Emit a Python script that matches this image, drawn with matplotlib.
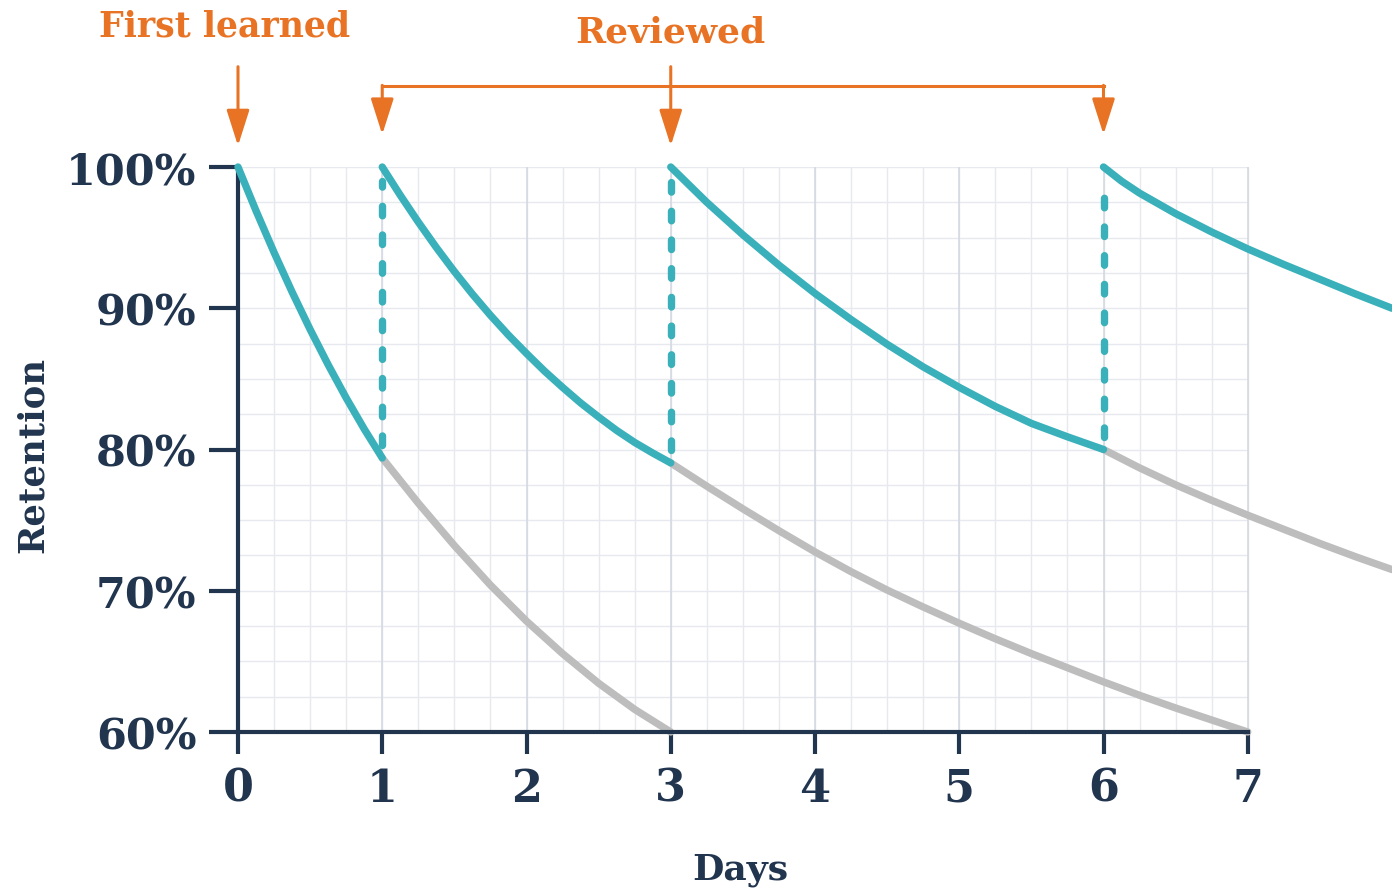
import numpy as np
import matplotlib
matplotlib.use("Agg")
import matplotlib.pyplot as plt

# retention values (days, percent)
learn_days = [0, 0.125, 0.25, 0.375, 0.5, 0.625, 0.75, 0.875, 1.0]
learn_ret = [100, 96.9, 93.95, 91.15, 88.5, 86.0, 83.65, 81.45, 79.4]

review1_days = [1, 1.125, 1.25, 1.375, 1.5, 1.625, 1.75, 1.875, 2,
                2.125, 2.25, 2.375, 2.5, 2.625, 2.75, 2.875, 3]
review1_ret = [100, 98.0, 96.1, 94.3, 92.6, 91.0, 89.5, 88.1, 86.8,
               85.55, 84.4, 83.3, 82.3, 81.35, 80.5, 79.75, 79.05]

review2_days = [3, 3.25, 3.5, 3.75, 4, 4.25, 4.5, 4.75, 5, 5.25, 5.5, 5.75, 6]
review2_ret = [100, 97.5, 95.2, 93.05, 91.05, 89.2, 87.45, 85.85, 84.4, 83.05,
               81.85, 80.9, 80.0]

review3_days = [6, 6.125, 6.25, 6.5, 6.75, 7, 7.25, 7.5, 7.75, 8]
review3_ret = [100, 99.0, 98.15, 96.7, 95.4, 94.2, 93.1, 92.05, 91.0, 90.0]

# what happens without the next review
fade1_days = [1, 1.25, 1.5, 1.75, 2, 2.25, 2.5, 2.75, 3]
fade1_ret = [79.4, 76.2, 73.2, 70.4, 67.85, 65.55, 63.45, 61.6, 60.0]

fade2_days = [3, 3.25, 3.5, 3.75, 4, 4.25, 4.5, 4.75, 5, 5.25, 5.5, 5.75, 6,
              6.25, 6.5, 6.75, 7]
fade2_ret = [79.05, 77.4, 75.8, 74.25, 72.75, 71.35, 70.05, 68.85, 67.7, 66.6,
             65.55, 64.55, 63.55, 62.6, 61.7, 60.85, 60.0]

fade3_days = [6, 6.25, 6.5, 6.75, 7, 7.25, 7.5, 7.75, 8]
fade3_ret = [80.0, 78.7, 77.5, 76.4, 75.35, 74.35, 73.35, 72.4, 71.5]

first_day = 0
review_days = [1, 3, 6]
x_ticks = [0, 1, 2, 3, 4, 5, 6, 7]
y_ticks = [60, 70, 80, 90, 100]
y_labels = ["60%", "70%", "80%", "90%", "100%"]

navy = "#22354f"
teal = "#3ab0ba"
grey = "#bdbdbd"
orange = "#e97324"
font = "DejaVu Serif"

fig = plt.figure(figsize=(13.92, 8.95), dpi=100)
ax = fig.add_axes([238 / 1392, 162 / 895, 1154 / 1392, 565 / 895])
ax.set_xlim(0, 8)
ax.set_ylim(60, 100)

# grid only over the 0-7 day area
minor_x = np.arange(0, 7.01, 0.25)
minor_y = np.arange(60, 100.01, 2.5)
ax.vlines(minor_x, 60, 100, color="#e6e9ef", lw=1.0, zorder=0)
ax.hlines(minor_y, 0, 7, color="#e6e9ef", lw=1.0, zorder=0)
ax.vlines(x_ticks, 60, 100, color="#d5dae2", lw=1.2, zorder=0)

# faded curves
for d, r in [(fade1_days, fade1_ret), (fade2_days, fade2_ret), (fade3_days, fade3_ret)]:
    ax.plot(d, r, color=grey, lw=5.3, solid_capstyle="round",
            solid_joinstyle="round", zorder=2, clip_on=False)

# retention curves with reviews
segments = [(learn_days, learn_ret), (review1_days, review1_ret),
            (review2_days, review2_ret), (review3_days, review3_ret)]
for d, r in segments:
    ax.plot(d, r, color=teal, lw=5.3, solid_capstyle="round",
            solid_joinstyle="round", zorder=4, clip_on=False)

# dotted jump back up at each review
for i, day in enumerate(review_days):
    low = segments[i][1][-1]
    high = segments[i + 1][1][0]
    ax.plot([day, day], [low + 0.9, high - 1.0], color=teal, lw=5.3,
            linestyle=(0, (1.3, 2.6)), dash_capstyle="round", zorder=3)

# axes styling
for side in ["top", "right"]:
    ax.spines[side].set_visible(False)
ax.spines["left"].set_color(navy)
ax.spines["bottom"].set_color(navy)
ax.spines["left"].set_linewidth(3)
ax.spines["bottom"].set_linewidth(3)
ax.spines["left"].set_bounds(60, 100)
ax.spines["bottom"].set_bounds(0, 7)

ax.set_xticks(x_ticks)
ax.set_xticklabels([str(t) for t in x_ticks])
ax.set_yticks(y_ticks)
ax.set_yticklabels(y_labels)
ax.tick_params(axis="x", length=16, width=3, color=navy, pad=9)
ax.tick_params(axis="y", length=21, width=3, color=navy, pad=9)
for lab in ax.get_xticklabels():
    lab.set_fontfamily(font)
    lab.set_fontweight("bold")
    lab.set_fontsize(32)
    lab.set_color(navy)
for lab in ax.get_yticklabels():
    lab.set_fontfamily(font)
    lab.set_fontweight("bold")
    lab.set_fontsize(31)
    lab.set_color(navy)

fig.text(33 / 1392, 1 - 455 / 895, "Retention", rotation=90, ha="center", va="center",
         fontsize=25.5, fontweight="bold", family=font, color=navy)
fig.text(740 / 1392, 1 - 870 / 895, "Days", ha="center", va="center",
         fontsize=26, fontweight="bold", family=font, color=navy)

# annotations above the plot
head = dict(arrowstyle="-|>,head_length=2.2,head_width=0.7", mutation_scale=10,
            color=orange, lw=2.2, shrinkA=0, shrinkB=0)
ax.annotate("", xy=(first_day, 101.5), xytext=(first_day, 107.1),
            arrowprops=head, annotation_clip=False)
ax.text(first_day - 0.09, 110.0, "First learned", ha="center", va="center",
        fontsize=25, fontweight="bold", family=font, color=orange)

bracket_y = 105.7
ax.plot([review_days[0], review_days[-1]], [bracket_y, bracket_y], color=orange,
        lw=2.2, clip_on=False)
for day in [review_days[0], review_days[-1]]:
    ax.annotate("", xy=(day, 102.3), xytext=(day, bracket_y + 0.08),
                arrowprops=head, annotation_clip=False)
ax.annotate("", xy=(review_days[1], 101.5), xytext=(review_days[1], 107.1),
            arrowprops=head, annotation_clip=False)
ax.text(review_days[1], 109.6, "Reviewed", ha="center", va="center",
        fontsize=26, fontweight="bold", family=font, color=orange)

fig.savefig("out.png", dpi=100, facecolor="white")
